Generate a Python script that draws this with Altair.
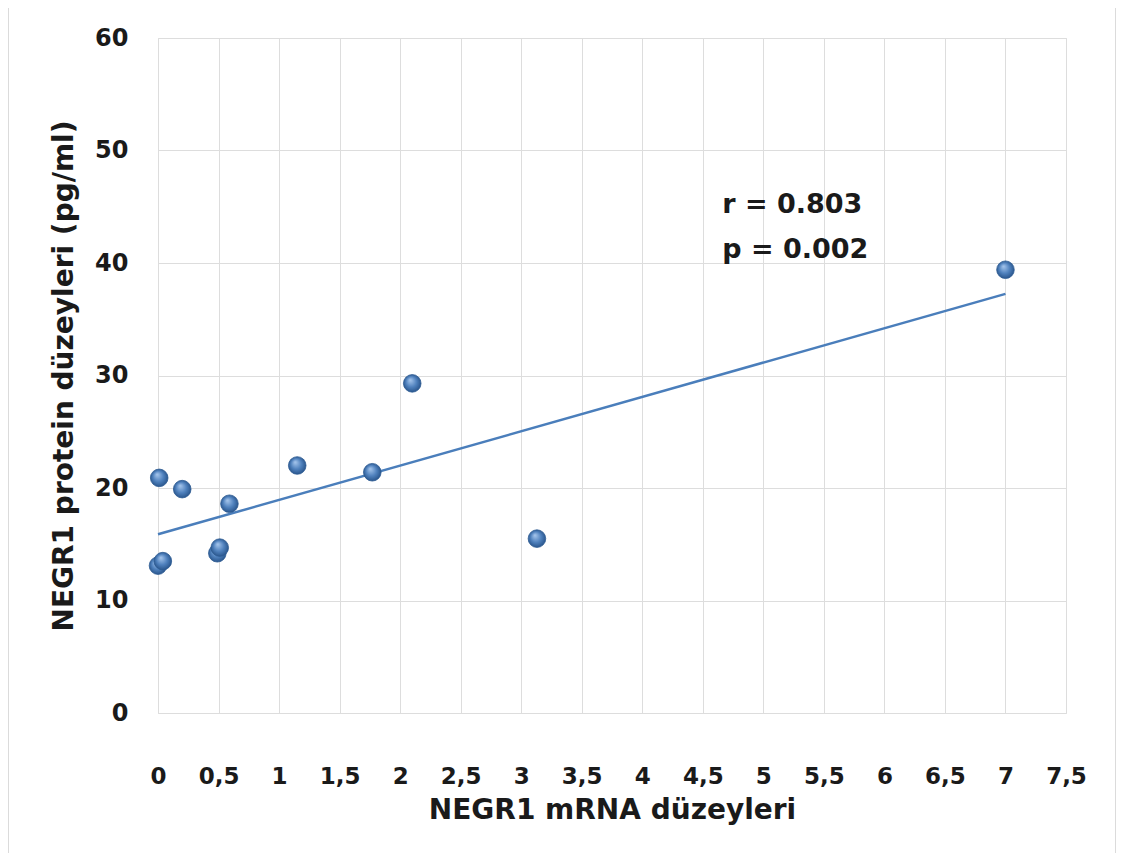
import altair as alt
import pandas as pd

mrna = [0.01, 0.20, 0.00, 0.04, 0.49, 0.51, 0.59, 1.15, 1.77, 2.10, 3.13, 7.00]
protein = [20.9, 19.9, 13.1, 13.5, 14.2, 14.7, 18.6, 22.0, 21.4, 29.3, 15.5, 39.4]

ann_text = ["r = 0.803", "p = 0.002"]
ann_x = [4.66, 4.66]
ann_y = [45.2, 41.2]

x_ticks = [0, 0.5, 1, 1.5, 2, 2.5, 3, 3.5, 4, 4.5, 5, 5.5, 6, 6.5, 7, 7.5]
y_ticks = [0, 10, 20, 30, 40, 50, 60]

df = pd.DataFrame({"x": mrna, "y": protein})
ann = pd.DataFrame({"t": ann_text, "x": ann_x, "y": ann_y})

FONT = "DejaVu Sans"
TXT = "#1a1a1a"

xenc = alt.X("x:Q", scale=alt.Scale(domain=[0, 7.5], nice=False, zero=False),
             axis=alt.Axis(values=x_ticks, labelExpr="replace(format(datum.value, ''), '.', ',')",
                           title="NEGR1 mRNA düzeyleri", grid=True, domain=False, ticks=False,
                           labelFlush=False, labelOverlap=False,
                           labelPadding=52, titlePadding=8, labelFontSize=23, titleFontSize=28,
                           labelFont=FONT, titleFont=FONT, labelFontWeight="bold",
                           titleFontWeight="bold", labelColor=TXT, titleColor=TXT))
yenc = alt.Y("y:Q", scale=alt.Scale(domain=[0, 60], nice=False),
             axis=alt.Axis(values=y_ticks, title="NEGR1 protein düzeyleri (pg/ml)", grid=True,
                           domain=False, ticks=False, labelPadding=30, titlePadding=16,
                           labelFlush=False, labelOverlap=False,
                           labelFontSize=24, titleFontSize=28,
                           labelFont=FONT, titleFont=FONT, labelFontWeight="bold",
                           titleFontWeight="bold", labelColor=TXT, titleColor=TXT))

grad = alt.RadialGradient(
    gradient="radial",
    stops=[alt.GradientStop(color="#a9c8ee", offset=0),
           alt.GradientStop(color="#4f81bd", offset=0.55),
           alt.GradientStop(color="#244f85", offset=1)],
    x1=0.38, y1=0.3, r1=0, x2=0.5, y2=0.5, r2=0.55,
)

base = alt.Chart(df)

trend = base.transform_regression("x", "y", method="linear").mark_line(
    color="#4a7ebb", strokeWidth=2.5
).encode(x=xenc, y=yenc)

pts = base.mark_point(filled=True, fill=grad, size=310, opacity=1,
                      stroke="#2c5a92", strokeWidth=0.8).encode(x=xenc, y=yenc)

txt = alt.Chart(ann).mark_text(align="left", baseline="middle", font=FONT,
                               fontWeight="bold", fontSize=27, color=TXT).encode(
    x="x:Q", y="y:Q", text="t:N")

frame = alt.Chart(ann).mark_rect(fill=None, stroke="#d9d9d9", strokeWidth=1.5).encode(
    x=alt.value(-150), x2=alt.value(958), y=alt.value(-34), y2=alt.value(840))

chart = alt.layer(frame, trend, pts, txt).properties(
    width=908, height=675,
    autosize=alt.AutoSizeParams(type="none"),
    padding={"left": 150, "top": 30, "right": 50, "bottom": 140},
).configure_axis(
    gridColor="#d9d9d9", gridWidth=1.2,
).configure_view(stroke=None).configure(background="white")

chart.save("out.html", embed_options={"renderer": "svg", "actions": False})
